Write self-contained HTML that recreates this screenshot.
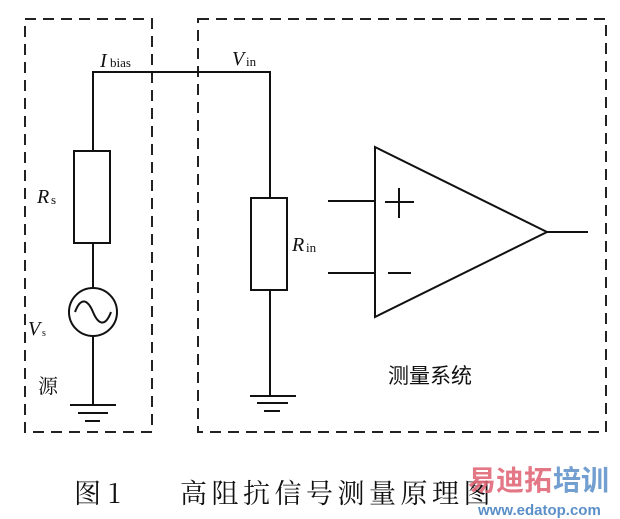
<!DOCTYPE html>
<html><head><meta charset="utf-8"><style>
body{margin:0;background:#fff;width:620px;height:519px;overflow:hidden}
svg{display:block}
text{font-family:"Liberation Serif","Noto Serif CJK SC",serif;fill:#111}
</style></head><body>
<svg width="620" height="519" viewBox="0 0 620 519">
<g fill="none" stroke="#222" stroke-width="2" stroke-dasharray="11,7">
<rect x="25" y="19" width="127" height="413"/>
<rect x="198" y="19" width="408" height="413"/>
</g>
<g fill="none" stroke="#111" stroke-width="2">
<polyline points="93,151 93,72 270,72 270,198"/>
<rect x="74" y="151" width="36" height="92"/>
<line x1="93" y1="243" x2="93" y2="288"/>
<circle cx="93" cy="312" r="24"/>
<path d="M75,312 C81,296 88,300 93,312 C98,324 105,328 111,312"/>
<line x1="93" y1="336" x2="93" y2="405"/>
<line x1="70" y1="405" x2="116" y2="405"/>
<line x1="78" y1="413" x2="108" y2="413"/>
<line x1="85" y1="421" x2="100" y2="421"/>
<rect x="251" y="198" width="36" height="92"/>
<line x1="270" y1="290" x2="270" y2="396"/>
<line x1="250" y1="396" x2="296" y2="396"/>
<line x1="257" y1="403" x2="288" y2="403"/>
<line x1="264" y1="411" x2="280" y2="411"/>
<polygon points="375,147 547,232 375,317"/>
<line x1="547" y1="232" x2="588" y2="232"/>
<line x1="328" y1="201" x2="375" y2="201"/>
<line x1="328" y1="273" x2="375" y2="273"/>
<line x1="385" y1="202" x2="414" y2="202"/>
<line x1="399" y1="188" x2="399" y2="218"/>
<line x1="388" y1="273" x2="411" y2="273"/>
</g>
<text x="100" y="67" font-size="20" font-style="italic">I</text><text x="110" y="67" font-size="13">bias</text>
<text x="232" y="65" font-size="20" font-style="italic">V</text><text x="246" y="66" font-size="13">in</text>
<text x="37" y="203" font-size="20" font-style="italic">R</text><text x="51" y="204" font-size="13">s</text>
<text x="292" y="251" font-size="20" font-style="italic">R</text><text x="306" y="252" font-size="13">in</text>
<text x="28" y="335" font-size="20" font-style="italic">V</text><text x="42" y="336" font-size="10">s</text>
<text x="38" y="393" font-size="20" font-family="Noto Sans CJK SC">源</text>
<text x="388" y="383" font-size="21" style="font-family:'Noto Sans CJK SC',sans-serif">测量系统</text>
<text x="74" y="503" font-size="27" style="font-family:'Noto Serif CJK SC',serif">图 1</text>
<text x="180" y="503" font-size="27" letter-spacing="4.5" style="font-family:'Noto Serif CJK SC',serif">高阻抗信号测量原理图</text>
<text x="468" y="490" font-size="28" font-weight="bold" style="font-family:'Noto Sans CJK SC',sans-serif;fill:#e06070;opacity:.85">易迪拓</text>
<text x="553" y="490" font-size="28" font-weight="bold" style="font-family:'Noto Sans CJK SC',sans-serif;fill:#5b8fc8;opacity:.85">培训</text>
<text x="478" y="515" font-size="15" font-weight="bold" style="font-family:'Liberation Sans',sans-serif;fill:#5b8fc8">www.edatop.com</text>
</svg>
</body></html>
